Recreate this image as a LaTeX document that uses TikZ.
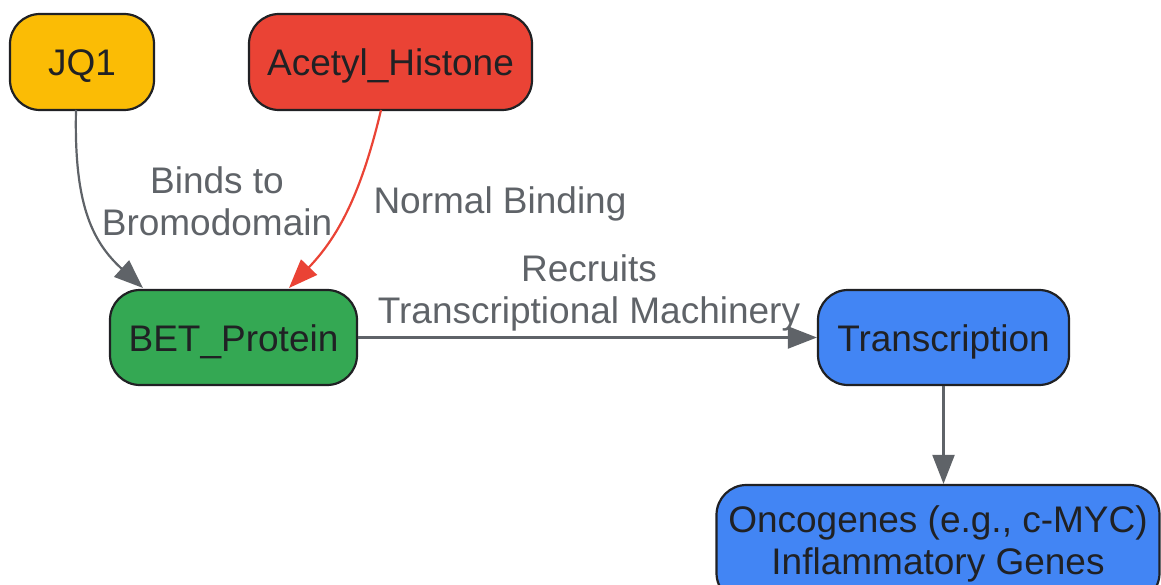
\documentclass[tikz,border=0pt]{standalone}
\usepackage{fontspec}
\setmainfont{Liberation Sans}
\usetikzlibrary{arrows.meta}
\definecolor{cyellow}{HTML}{FBBC05}
\definecolor{cred}{HTML}{EA4335}
\definecolor{cgreen}{HTML}{34A853}
\definecolor{cblue}{HTML}{4285F4}
\definecolor{cdark}{HTML}{202124}
\definecolor{cgray}{HTML}{5F6368}
\tikzset{
  box/.style={draw=cdark, line width=2.2pt, rounded corners=30pt, inner sep=0pt,
    text=cdark, align=center, font=\fontsize{37}{41.7}\selectfont},
  onebox/.style={box, text height=35pt, text depth=8pt},
  conn/.style={draw=cgray, line width=2.2pt, -{Triangle[length=29pt,width=22pt]}},
  lbl/.style={text=cgray, align=center, inner sep=0pt, font=\fontsize{37}{41.7}\selectfont}
}
\begin{document}
\begin{tikzpicture}[x=1pt,y=-1pt]
\useasboundingbox (0,0) rectangle (1161,585);
\node[onebox, fill=cyellow, minimum width=144pt, minimum height=96pt] (jq1) at (82,62) {JQ1};
\node[onebox, fill=cred, minimum width=283pt, minimum height=96pt] (ac) at (390.5,62) {Acetyl\_Histone};
\node[onebox, fill=cgreen, minimum width=247pt, minimum height=95pt] (bet) at (233.5,337.5) {BET\_Protein};
\node[onebox, fill=cblue, minimum width=251pt, minimum height=95pt] (tr) at (943.5,337.5) {Transcription};
\node[box, fill=cblue, minimum width=443pt, minimum height=118pt] (onc) at (938,544) {Oncogenes (e.g., c-MYC)\\Inflammatory Genes};
\coordinate (jqs) at (76,110);
\coordinate (bett1) at (143,288);
\coordinate (acs) at (381,110);
\coordinate (bett2) at (289,288);
\draw[conn] (jqs) .. controls (74,200) and (90,240) .. (bett1);
\draw[conn, draw=cred] (acs) .. controls (362,190) and (340,235) .. (bett2);
\draw[conn] (bet.east) -- (tr.west);
\draw[conn] (tr.south) -- (tr.south |- onc.north);
\node[lbl] (l1) at (217,201) {Binds to\\Bromodomain};
\node[lbl] (l2) at (500,204) {Normal Binding};
\node[lbl] (l3) at (589,293) {Recruits\\Transcriptional Machinery};
\end{tikzpicture}
\end{document}
